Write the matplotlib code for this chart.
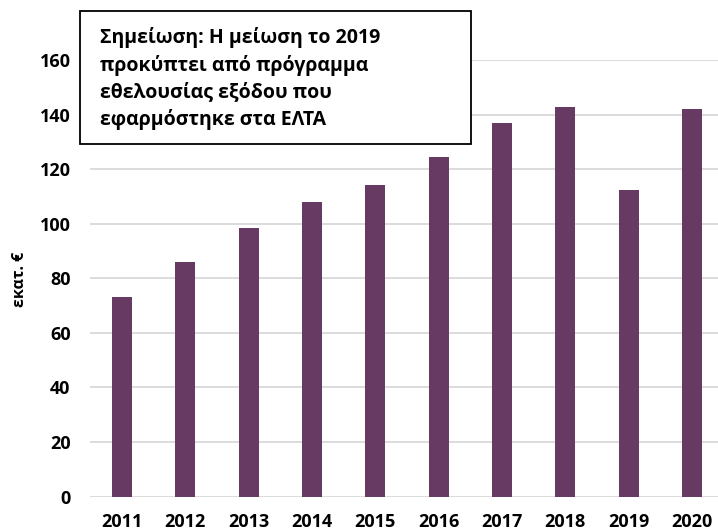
import matplotlib.pyplot as plt
from matplotlib.patches import Rectangle

years = ['2011', '2012', '2013', '2014', '2015', '2016', '2017', '2018', '2019', '2020']
values = [73.1, 85.8, 98.3, 107.8, 114.0, 124.3, 136.8, 142.6, 112.2, 142.0]
note = 'Σημείωση: Η μείωση το 2019\nπροκύπτει από πρόγραμμα\nεθελουσίας εξόδου που\nεφαρμόστηκε στα ΕΛΤΑ'
ylabel = 'εκατ. €'

plt.rcParams['font.family'] = ['Open Sans', 'DejaVu Sans']
plt.rcParams['font.weight'] = 'bold'

fig = plt.figure(figsize=(7.18, 5.31), dpi=100)
ax = fig.add_axes([90/718, 34.5/531, 1 - 90/718, (496.5 - 60)/531])

x = range(len(years))
ax.bar(x, values, width=0.316, color='#673A64', zorder=2)

ax.set_xlim(-0.505, 9.41)
ax.set_ylim(0, 160)
ax.set_yticks(range(0, 161, 20))
ax.set_xticks(list(x))
ax.set_xticklabels(years)
ax.grid(axis='y', color='#D9D9D9', linewidth=1.3, zorder=0)
ax.set_axisbelow(True)
for s in ax.spines.values():
    s.set_visible(False)
ax.tick_params(axis='both', length=0, labelsize=13)
ax.tick_params(axis='y', pad=14)
ax.tick_params(axis='x', pad=12)
for lab in ax.get_xticklabels() + ax.get_yticklabels():
    lab.set_fontweight('bold')

fig.text(20/718, 1 - 279/531, ylabel, rotation=90, ha='center', va='center',
         fontsize=11.5, fontweight='bold')

box = Rectangle((80/718, 1 - 144/531), 391/718, 133/531, transform=fig.transFigure,
                facecolor='white', edgecolor='black', linewidth=1.3, zorder=5)
fig.patches.append(box)
fig.text(100/718, 1 - 125/531, note, ha='left', va='baseline', fontsize=14,
         fontweight='bold', linespacing=1.43, zorder=6)

fig.savefig('out.png', dpi=100)
